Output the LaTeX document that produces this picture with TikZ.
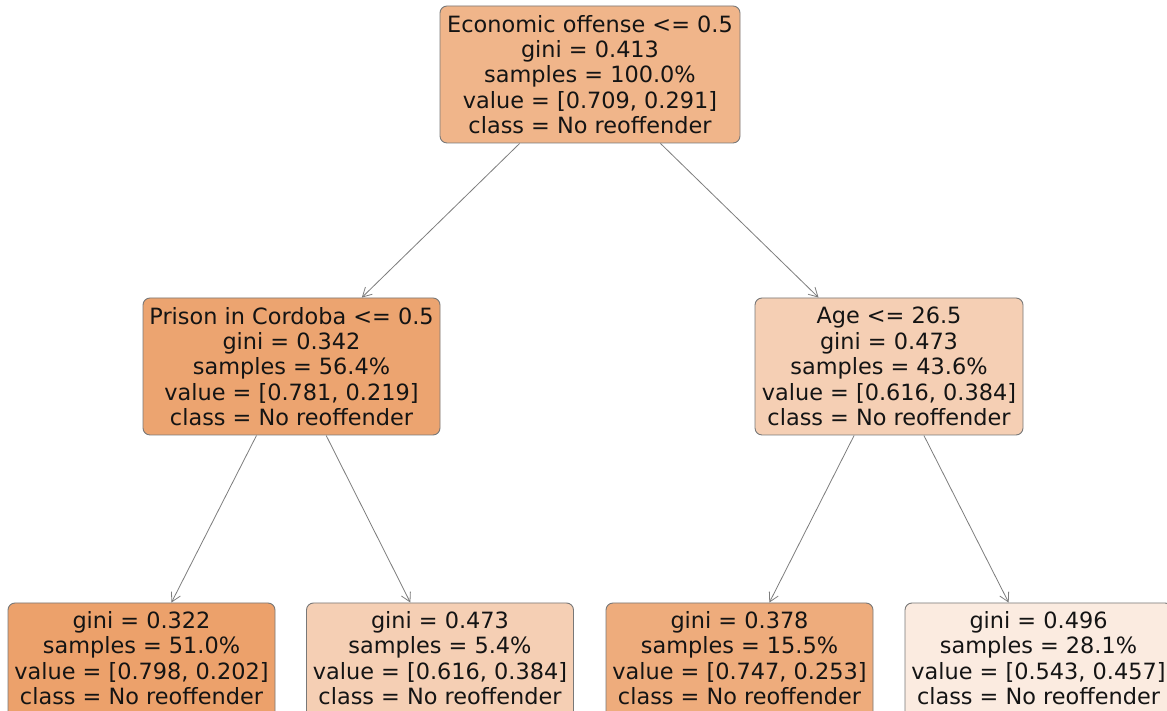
\documentclass[tikz,border=0pt]{standalone}
\usepackage{fontspec}
\setmainfont{DejaVu Sans}
\usetikzlibrary{arrows.meta}
\definecolor{cRoot}{RGB}{240,181,138}
\definecolor{cLM}{RGB}{236,164,112}
\definecolor{cRM}{RGB}{245,207,180}
\definecolor{cLL}{RGB}{236,161,107}
\definecolor{cLR}{RGB}{245,207,180}
\definecolor{cRL}{RGB}{238,172,124}
\definecolor{cRR}{RGB}{251,235,224}
\definecolor{edgegray}{RGB}{125,125,125}
\definecolor{bordergray}{RGB}{120,120,120}
\tikzset{
  treebox/.style={draw=bordergray, line width=0.9pt, rounded corners=7pt,
    align=center, inner sep=0pt, text=black!92,
    font=\fontsize{22.4}{25.4}\selectfont},
  inner5/.style={treebox, minimum height=137pt},
  leaf4/.style={treebox, minimum height=117pt, minimum width=267pt},
  treeedge/.style={draw=edgegray, line width=0.8pt,
    -{Straight Barb[length=9pt,width=10pt,line width=0.8pt]}}
}
\begin{document}
\begin{tikzpicture}[x=1pt,y=1pt]
\useasboundingbox (0,0) rectangle (1167,711);
\clip (0,0) rectangle (1167,711);
\fill[white] (0,0) rectangle (1167,711);
\node[inner5, minimum width=300pt, fill=cRoot] (root) at (590,711-74.5)
  {Economic offense <= 0.5\\gini = 0.413\\samples = 100.0\%\\value = [0.709, 0.291]\\class = No reoffender};
\node[inner5, minimum width=297pt, fill=cLM] (lm) at (291.5,711-366.5)
  {Prison in Cordoba <= 0.5\\gini = 0.342\\samples = 56.4\%\\value = [0.781, 0.219]\\class = No reoffender};
\node[inner5, minimum width=268pt, fill=cRM] (rm) at (889,711-366.5)
  {Age <= 26.5\\gini = 0.473\\samples = 43.6\%\\value = [0.616, 0.384]\\class = No reoffender};
\node[leaf4, fill=cLL] (ll) at (141.5,711-661.5)
  {gini = 0.322\\samples = 51.0\%\\value = [0.798, 0.202]\\class = No reoffender\\[-18pt]{}};
\node[leaf4, fill=cLR] (lr) at (440,711-661.5)
  {gini = 0.473\\samples = 5.4\%\\value = [0.616, 0.384]\\class = No reoffender\\[-18pt]{}};
\node[leaf4, fill=cRL] (rl) at (739.5,711-661.5)
  {gini = 0.378\\samples = 15.5\%\\value = [0.747, 0.253]\\class = No reoffender\\[-18pt]{}};
\node[leaf4, fill=cRR] (rr) at (1038.5,711-661.5)
  {gini = 0.496\\samples = 28.1\%\\value = [0.543, 0.457]\\class = No reoffender\\[-18pt]{}};
\draw[treeedge] (root) -- (lm);
\draw[treeedge] (root) -- (rm);
\draw[treeedge] (lm) -- (ll);
\draw[treeedge] (lm) -- (lr);
\draw[treeedge] (rm) -- (rl);
\draw[treeedge] (rm) -- (rr);
\end{tikzpicture}
\end{document}
